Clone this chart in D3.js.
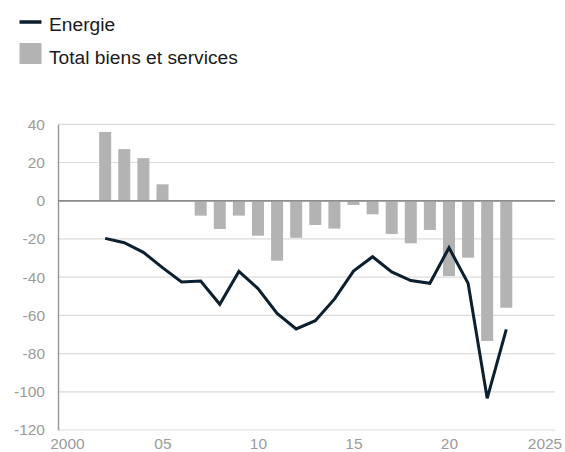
<!DOCTYPE html>
<html>
<head>
<meta charset="utf-8">
<script src="https://cdn.jsdelivr.net/npm/d3@7"></script>
<style>
  body { margin: 0; background: #fff; }
  svg { display: block; font-family: "Liberation Sans", Arial, sans-serif; }
</style>
</head>
<body>
<svg id="chart"></svg>
<script>
const WIDTH = 565;
const HEIGHT = 452;

const years = [2002, 2003, 2004, 2005, 2006, 2007, 2008, 2009, 2010, 2011, 2012,
  2013, 2014, 2015, 2016, 2017, 2018, 2019, 2020, 2021, 2022, 2023];
const totalBiens = [36, 27, 22.3, 8.6, 0, -7.8, -14.8, -7.8, -18.3, -31.4, -19.4,
  -12.7, -14.6, -2.2, -7.1, -17.4, -22.3, -15.3, -39.4, -29.8, -73.4, -56];
const energie = [-19.7, -22, -27, -35, -42.5, -42, -54.2, -37, -46, -59, -67.1,
  -62.8, -51.5, -36.8, -29.3, -37.3, -41.8, -43.2, -24.6, -43.2, -103.4, -67.3];
const yTicks = [40, 20, 0, -20, -40, -60, -80, -100, -120];
const xTicks = [2000, 2005, 2010, 2015, 2020, 2025];
const xTickLabels = ["2000", "05", "10", "15", "20", "2025"];

const svg = d3.select("#chart").attr("width", WIDTH).attr("height", HEIGHT);
const margin = { top: 124.3, right: 10, bottom: 22, left: 58 };

const xScale = d3.scaleLinear()
  .domain([1999.53, 2025.55])
  .range([margin.left, WIDTH - margin.right]);

const yScale = d3.scaleLinear()
  .domain([-120, 40])
  .range([430, margin.top]);

// gridlines
svg.append("g")
  .selectAll("line")
  .data(yTicks)
  .join("line")
  .attr("x1", margin.left)
  .attr("x2", WIDTH - margin.right)
  .attr("y1", (d) => yScale(d))
  .attr("y2", (d) => yScale(d))
  .attr("stroke", (d) => (d === 0 ? "#8c8c8c" : "#dcdcdc"))
  .attr("stroke-width", (d) => (d === 0 ? 1.5 : 1.2));

// y axis
const yAxis = svg.append("g")
  .attr("transform", `translate(${margin.left}, 0)`)
  .call(d3.axisLeft(yScale).tickValues(yTicks).tickSize(0).tickPadding(13)
    .tickFormat((d) => String(d)));
yAxis.select(".domain").attr("stroke", "#9a9a9a").attr("stroke-width", 1.5);
yAxis.selectAll("text")
  .attr("font-size", "15.5px")
  .attr("fill", "#9b9b9b")
  .attr("font-family", "Liberation Sans, Arial, sans-serif");

// x axis labels
const xAxis = svg.append("g")
  .attr("transform", `translate(0, 430)`)
  .call(d3.axisBottom(xScale).tickValues(xTicks).tickSize(0).tickPadding(8)
    .tickFormat((d, i) => xTickLabels[i]));
xAxis.select(".domain").remove();
xAxis.selectAll("text")
  .attr("font-size", "15.5px")
  .attr("fill", "#9b9b9b")
  .attr("font-family", "Liberation Sans, Arial, sans-serif");

// bars
const barWidth = 12;
const barData = years.map((year, i) => ({ year, value: totalBiens[i] }));
svg.append("g")
  .selectAll("rect")
  .data(barData)
  .join("rect")
  .attr("x", (d) => xScale(d.year) - barWidth / 2)
  .attr("y", (d) => yScale(Math.max(0, d.value)))
  .attr("width", barWidth)
  .attr("height", (d) => Math.abs(yScale(d.value) - yScale(0)))
  .attr("fill", "#b3b3b3");

// redraw zero line over bars
svg.append("line")
  .attr("x1", margin.left)
  .attr("x2", WIDTH - margin.right)
  .attr("y1", yScale(0))
  .attr("y2", yScale(0))
  .attr("stroke", "#8c8c8c")
  .attr("stroke-width", 1.5);

// energie line
const lineData = years.map((year, i) => ({ year, value: energie[i] }));
const line = d3.line()
  .x((d) => xScale(d.year))
  .y((d) => yScale(d.value));
svg.append("path")
  .datum(lineData)
  .attr("d", line)
  .attr("fill", "none")
  .attr("stroke", "#0c1f2e")
  .attr("stroke-width", 3)
  .attr("stroke-linejoin", "miter");

// legend
const legend = svg.append("g");
legend.append("line")
  .attr("x1", 19.5).attr("x2", 41.5)
  .attr("y1", 22).attr("y2", 22)
  .attr("stroke", "#0c1f2e")
  .attr("stroke-width", 3.5);
legend.append("text")
  .attr("x", 49).attr("y", 30.5)
  .attr("font-size", "19.2px")
  .attr("fill", "#1a1a1a")
  .text("Energie");
legend.append("rect")
  .attr("x", 19.5).attr("y", 43)
  .attr("width", 22).attr("height", 21)
  .attr("fill", "#b3b3b3");
legend.append("text")
  .attr("x", 49).attr("y", 63.5)
  .attr("font-size", "19.2px")
  .attr("fill", "#1a1a1a")
  .text("Total biens et services");
</script>
</body>
</html>
